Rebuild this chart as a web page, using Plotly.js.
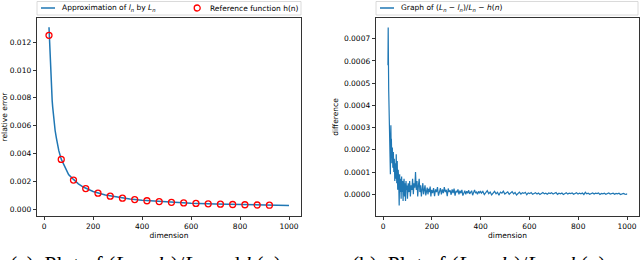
<!DOCTYPE html>
<html><head><meta charset="utf-8">
<script src="https://cdn.plot.ly/plotly-3.0.1.min.js"></script>
<style>html,body{margin:0;padding:0;background:#fff}#chart{width:640px;height:260px}</style>
</head><body><div id="chart"></div>
<script>
// Left panel: relative error (L_n - l_n)/L_n versus dimension
const errN = [20, 21, 22, 23, 25, 27, 30, 33, 35, 40, 45, 50, 55, 60, 70, 80, 90, 100, 120, 140, 160, 180, 200, 250, 300, 350, 400, 500, 600, 700, 800, 900, 1000];
const errVal = [0.01308, 0.01265, 0.01196, 0.01134, 0.01031, 0.00955, 0.00842, 0.00780, 0.00735, 0.00637, 0.00565, 0.00512, 0.00464, 0.00420, 0.00359, 0.00318, 0.00283, 0.00248, 0.00213, 0.00181, 0.00158, 0.00140, 0.00126, 0.00101, 0.000845, 0.000719, 0.000630, 0.000505, 0.000420, 0.000360, 0.000315, 0.000280, 0.000250];
// Reference function h(n), marked every 50 dimensions
const refN = [20, 70, 120, 170, 220, 270, 320, 370, 420, 470, 520, 570, 620, 670, 720, 770, 820, 870, 920];
const refVal = [0.0125, 0.00357, 0.00208, 0.00147, 0.00114, 0.000926, 0.000781, 0.000676, 0.000595, 0.000532, 0.000481, 0.000439, 0.000403, 0.000373, 0.000347, 0.000325, 0.000305, 0.000287, 0.000272];
// Right panel: (L_n - l_n)/L_n - h(n), values in units of 1e-6
const diffN = [20,21,22,23,24,25,26,27,28,29,30,31,32,33,34,36,38,40,42,44,46,48,50,52,54,56,58,60,62,64,66,68,70,72,74,76,78,80,82,84,86,88,90,92,94,96,98,100,
103,106,109,112,115,118,121,124,127,130,133,136,139,142,145,148,151,154,157,160,163,166,169,172,175,178,181,184,187,190,193,196,199,
203,207,211,215,219,223,227,231,235,239,243,247,251,255,259,263,267,271,275,279,283,287,291,295,299,303,307,311,315,319,323,327,331,335,339,343,347,351,355,359,363,367,371,375,379,383,387,391,395,399,
403,409,415,421,427,433,439,445,451,457,463,469,475,481,487,493,499,505,511,517,523,529,535,541,547,553,559,565,571,577,583,589,595,601,607,613,619,625,631,637,643,649,655,661,667,673,679,685,691,697,703,709,715,721,727,733,739,745,751,757,763,769,775,781,787,793,799,805,811,817,823,829,835,841,847,853,859,865,871,877,883,889,895,901,907,913,919,925,931,937,943,949,955,961,967,973,979,985,991,997,1000];
const diffMicro = [580,750,600,470,420,310,330,280,310,200,90,230,310,220,250,140,210,120,190,100,160,60,140,70,180,50,150,20,110,60,-50,90,10,70,-20,80,10,60,-30,40,70,-10,50,-30,60,20,40,-20,
50,10,60,-10,40,20,70,0,50,30,100,20,60,-10,40,70,10,40,-10,30,50,0,30,40,-5,20,30,0,25,10,35,-10,20,
5,28,-8,22,10,32,-6,15,28,0,22,5,32,10,20,-8,26,10,18,-2,22,5,26,-6,15,10,22,0,16,5,20,-6,10,16,0,14,5,18,2,10,16,-4,8,20,5,10,0,13,5,15,
5,13,-1,8,16,3,10,-3,8,13,2,9,-4,10,5,14,1,7,11,0,6,12,2,8,-3,6,10,1,7,4,9,-2,6,3,8,0,5,7,1,6,-1,4,8,2,5,0,6,3,7,1,4,8,0,5,2,6,-1,4,7,1,5,3,6,0,4,7,1,5,2,6,-1,9,2,5,0,4,6,1,5,3,6,-1,4,2,5,0,4,6,1,3,5,0,4,2,5,-1,3,4,1,0,3];
const diffVal = diffMicro.map(v => v * 1e-6);

const xTicks = [0, 200, 400, 600, 800, 1000];
const yTicksLeft = [0, 0.002, 0.004, 0.006, 0.008, 0.010, 0.012];
const yTicksRight = [0, 0.0001, 0.0002, 0.0003, 0.0004, 0.0005, 0.0006, 0.0007];

const W = 640, H = 260;
const px = x => x / W;
const py = y => 1 - y / H;
const BLUE = '#1f77b4';
const tickFont = {family: 'DejaVu Sans', size: 7.5, color: '#000'};

function xAxis(domain, anchor) {
  return {domain, anchor, range: [-29, 1049], tickvals: xTicks, ticks: 'outside', ticklen: 3.5, tickwidth: 0.8,
    tickcolor: '#000', showline: true, mirror: true, linecolor: '#000', linewidth: 0.8, showgrid: false, zeroline: false,
    tickfont: tickFont, title: {text: 'dimension', font: tickFont, standoff: 2}};
}
function yAxis(domain, anchor, range, tickvals, fmt, title) {
  return {domain, anchor, range, tickvals, tickformat: fmt, ticks: 'outside', ticklen: 3.5, tickwidth: 0.8,
    tickcolor: '#000', showline: true, mirror: true, linecolor: '#000', linewidth: 0.8, showgrid: false, zeroline: false,
    tickfont: tickFont, title: {text: title, font: tickFont, standoff: 4}};
}

const traces = [
  {x: errN, y: errVal, xaxis: 'x', yaxis: 'y', mode: 'lines', line: {color: BLUE, width: 1.5}, showlegend: false},
  {x: refN, y: refVal, xaxis: 'x', yaxis: 'y', mode: 'markers', showlegend: false,
   marker: {symbol: 'circle-open', size: 6, color: '#ff0000', line: {width: 1.3, color: '#ff0000'}}},
  {x: diffN, y: diffVal, xaxis: 'x2', yaxis: 'y2', mode: 'lines', line: {color: BLUE, width: 1.2}, showlegend: false}
];

const legFont = {family: 'DejaVu Sans', size: 7.5, color: '#000'};
const shapes = [
  {type: 'rect', xref: 'paper', yref: 'paper', x0: px(37), x1: px(301), y0: py(15), y1: py(1.5), line: {color: '#d0d0d0', width: 0.8}, fillcolor: 'rgba(255,255,255,0.8)'},
  {type: 'rect', xref: 'paper', yref: 'paper', x0: px(376), x1: px(638), y0: py(15), y1: py(1.5), line: {color: '#d0d0d0', width: 0.8}, fillcolor: 'rgba(255,255,255,0.8)'},
  {type: 'line', xref: 'paper', yref: 'paper', x0: px(41), x1: px(55), y0: py(8), y1: py(8), line: {color: BLUE, width: 1.5}},
  {type: 'circle', xref: 'paper', yref: 'paper', x0: px(194.2), x1: px(200.2), y0: py(11), y1: py(5), line: {color: '#ff0000', width: 1.3}},
  {type: 'line', xref: 'paper', yref: 'paper', x0: px(380), x1: px(394), y0: py(8), y1: py(8), line: {color: BLUE, width: 1.5}}
];
const ann = (x, y, text, font, xanchor, yanchor) => ({xref: 'paper', yref: 'paper', x: px(x), y: py(y), text, font, showarrow: false, xanchor, yanchor});
const capFont = {family: 'Liberation Serif', size: 21.5, color: '#000'};
const annotations = [
  ann(60, 8, 'Approximation of <i>l<sub>n</sub></i> by <i>L<sub>n</sub></i>', legFont, 'left', 'middle'),
  ann(208, 8, 'Reference function h(n)', legFont, 'left', 'middle'),
  ann(399, 8, 'Graph of (<i>L<sub>n</sub></i> − <i>l<sub>n</sub></i>)/<i>L<sub>n</sub></i> − <i>h</i>(<i>n</i>)', legFont, 'left', 'middle'),
  ann(8, 249.5, '(a)  Plot of (<i>L<sub>n</sub></i> − <i>l<sub>n</sub></i>)/<i>L<sub>n</sub></i> and <i>h</i>(<i>n</i>)', capFont, 'left', 'top'),
  ann(350, 249.5, '(b)  Plot of (<i>L<sub>n</sub></i> − <i>l<sub>n</sub></i>)/<i>L<sub>n</sub></i> − <i>h</i>(<i>n</i>)', capFont, 'left', 'top')
];

const layout = {
  width: W, height: H, margin: {l: 0, r: 0, t: 0, b: 0}, paper_bgcolor: '#fff', plot_bgcolor: '#fff', showlegend: false,
  xaxis: xAxis([px(37), px(301)], 'y'),
  yaxis: yAxis([1 - 216 / H, 1 - 18 / H], 'x', [-0.000504, 0.01375], yTicksLeft, '.3f', 'relative error'),
  xaxis2: xAxis([px(376), px(639)], 'y2'),
  yaxis2: yAxis([1 - 216 / H, 1 - 18 / H], 'x2', [-0.0000976, 0.000793], yTicksRight, '.4f', 'difference'),
  shapes, annotations
};
Plotly.newPlot('chart', traces, layout, {staticPlot: true, displayModeBar: false});
</script></body></html>
